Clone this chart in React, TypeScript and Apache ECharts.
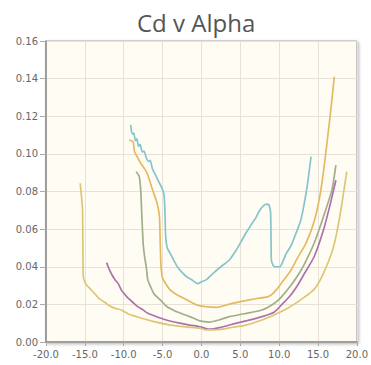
import React, { useEffect, useRef } from "react";
import * as echarts from "echarts";

const titleText = "Cd v Alpha";
const xTicks = { min: -20, max: 20, interval: 5 };
const yTicks = { min: 0, max: 0.16, interval: 0.02 };

const seriesNames = ["Run A", "Run B", "Run C", "Run D", "Run E"];
const seriesColors = ["#86c4cb", "#e5b862", "#a0ae8a", "#ad72ab", "#dcc674"];

const alphaA = [-9.1, -9.0, -8.8, -8.7, -8.5, -8.3, -8.1, -7.9, -7.6, -7.4, -7.1, -6.8, -6.6, -6.3, -6.0, -5.7, -5.4, -5.0, -4.8, -4.7, -4.6, -4.4, -4.0, -3.5, -3.1, -2.5, -1.9, -1.2, -0.5, 0.0, 0.6, 1.5, 2.5, 3.6, 4.5, 5.2, 5.7, 6.2, 6.5, 7.0, 7.5, 8.0, 8.4, 8.7, 8.9, 9.0, 9.2, 9.4, 10.1, 10.5, 10.9, 11.5, 12.0, 12.8, 13.6, 14.1];
const cdA = [0.1154, 0.112, 0.1105, 0.111, 0.107, 0.108, 0.104, 0.105, 0.101, 0.1015, 0.098, 0.096, 0.0965, 0.092, 0.0895, 0.087, 0.0844, 0.081, 0.078, 0.07, 0.056, 0.05, 0.047, 0.043, 0.04, 0.037, 0.0347, 0.033, 0.031, 0.032, 0.033, 0.0365, 0.04, 0.0436, 0.049, 0.054, 0.0578, 0.061, 0.063, 0.066, 0.07, 0.0725, 0.0733, 0.0728, 0.0684, 0.0436, 0.041, 0.04, 0.04, 0.043, 0.047, 0.051, 0.056, 0.065, 0.0826, 0.0985];

const alphaB = [-9.3, -8.8, -8.6, -8.2, -7.8, -7.3, -6.9, -6.3, -5.7, -5.4, -5.3, -5.2, -5.0, -4.6, -4.0, -3.1, -1.9, -0.6, 0.5, 1.9, 3.5, 5.0, 5.7, 7.0, 8.5, 9.0, 9.8, 10.6, 11.5, 12.4, 13.4, 14.5, 15.3, 15.9, 16.5, 17.1];
const cdB = [0.1074, 0.1065, 0.101, 0.098, 0.095, 0.092, 0.0888, 0.081, 0.0737, 0.0666, 0.0525, 0.04, 0.034, 0.031, 0.0276, 0.025, 0.0225, 0.0197, 0.0188, 0.0184, 0.02, 0.0215, 0.022, 0.023, 0.024, 0.025, 0.0285, 0.033, 0.038, 0.045, 0.052, 0.064, 0.079, 0.097, 0.118, 0.141];

const alphaC = [-8.4, -8.0, -7.8, -7.7, -7.5, -7.3, -7.1, -6.9, -6.5, -6.1, -5.2, -4.5, -3.4, -2.5, -1.5, -0.2, 1.0, 2.5, 3.6, 5.5, 7.8, 9.4, 10.3, 11.5, 12.5, 13.2, 14.5, 15.7, 16.8, 17.3];
const cdC = [0.0905, 0.088, 0.08, 0.07, 0.0525, 0.045, 0.04, 0.033, 0.029, 0.0255, 0.022, 0.019, 0.0165, 0.015, 0.0135, 0.0112, 0.0106, 0.012, 0.0135, 0.015, 0.017, 0.0206, 0.024, 0.03, 0.036, 0.041, 0.0525, 0.0666, 0.081, 0.094];

const alphaD = [-12.2, -11.9, -11.5, -11.1, -10.7, -10.3, -9.8, -9.4, -8.8, -8.2, -7.5, -6.9, -6.1, -5.2, -4.2, -3.1, -1.5, -0.2, 1.0, 2.5, 4.4, 6.0, 7.8, 9.4, 10.3, 11.5, 12.5, 13.2, 14.5, 15.7, 16.6, 17.3];
const cdD = [0.0422, 0.039, 0.0356, 0.033, 0.031, 0.0276, 0.025, 0.0232, 0.021, 0.0188, 0.017, 0.0153, 0.014, 0.0126, 0.0113, 0.0103, 0.009, 0.0081, 0.0068, 0.0078, 0.0099, 0.0115, 0.0135, 0.016, 0.0197, 0.025, 0.031, 0.036, 0.0453, 0.0595, 0.0737, 0.086];

const alphaE = [-15.6, -15.3, -15.2, -14.9, -14.5, -13.8, -13.2, -12.4, -12.0, -11.2, -10.3, -9.4, -8.2, -6.1, -4.0, -2.0, -0.2, 0.6, 2.0, 3.6, 5.7, 7.8, 9.4, 11.1, 11.9, 12.8, 14.5, 15.7, 17.0, 17.8, 18.7];
const cdE = [0.0844, 0.07, 0.0347, 0.031, 0.029, 0.026, 0.0232, 0.021, 0.0197, 0.018, 0.017, 0.0149, 0.0133, 0.0108, 0.009, 0.008, 0.0073, 0.0064, 0.0065, 0.0075, 0.009, 0.0117, 0.0145, 0.018, 0.02, 0.0225, 0.028, 0.0365, 0.0507, 0.0666, 0.0905];

const alphas = [alphaA, alphaB, alphaC, alphaD, alphaE];
const cds = [cdA, cdB, cdC, cdD, cdE];

export default function App() {
  const ref = useRef<HTMLDivElement>(null);
  useEffect(() => {
    if (!ref.current) return;
    const chart = echarts.init(ref.current, undefined, { renderer: "svg" });
    const labelStyle = { color: "#666", fontSize: 10, fontFamily: "DejaVu Sans" };
    chart.setOption({
      animation: false,
      backgroundColor: "#ffffff",
      title: {
        text: titleText,
        left: 132,
        top: 5,
        textStyle: { fontFamily: "Open Sans", fontSize: 24, fontWeight: "normal", color: "#555" },
      },
      grid: {
        left: 46,
        right: 7,
        top: 41,
        bottom: 23,
        show: true,
        backgroundColor: "#fffdf3",
        borderColor: "#a8a8a8",
        borderWidth: 1,
        shadowColor: "rgba(0,0,0,0.3)",
        shadowBlur: 3,
        shadowOffsetX: 1.5,
        shadowOffsetY: 1.5,
      },
      xAxis: {
        type: "value",
        min: xTicks.min,
        max: xTicks.max,
        interval: xTicks.interval,
        axisLine: { show: true, onZero: false, lineStyle: { color: "#8a8a8a", width: 1.5 } },
        axisTick: { show: true, length: 4, lineStyle: { color: "#aaa" } },
        axisLabel: { ...labelStyle, margin: 7, formatter: (v: number) => v.toFixed(1) },
        splitLine: { show: true, lineStyle: { color: "#e6e2d8", width: 1 } },
      },
      yAxis: {
        type: "value",
        min: yTicks.min,
        max: yTicks.max,
        interval: yTicks.interval,
        axisLine: { show: true, onZero: false, lineStyle: { color: "#8a8a8a", width: 1.5 } },
        axisTick: { show: true, length: 6, lineStyle: { color: "#aaa" } },
        axisLabel: { ...labelStyle, margin: 8, formatter: (v: number) => v.toFixed(2) },
        splitLine: { show: true, lineStyle: { color: "#e6e2d8", width: 1 } },
      },
      series: seriesNames.map((name, i) => ({
        name,
        type: "line",
        showSymbol: false,
        smooth: 0.2,
        data: alphas[i].map((a, j) => [a, cds[i][j]]),
        lineStyle: { color: seriesColors[i], width: 1.7 },
        itemStyle: { color: seriesColors[i] },
      })),
    });
    return () => chart.dispose();
  }, []);
  return (
    <div
      ref={ref}
      style={{ position: "absolute", left: 0, top: 0, width: 371, height: 365 }}
    />
  );
}
